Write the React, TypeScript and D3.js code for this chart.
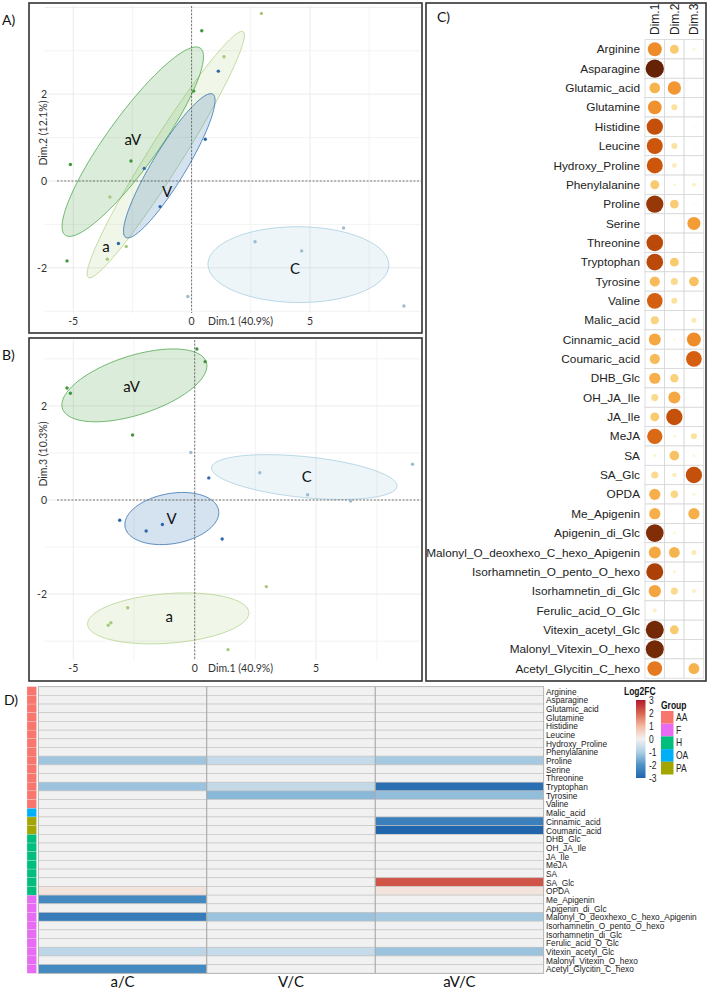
import React from 'react';
import * as d3 from 'd3';

// ---- PCA individuals (coordinates on the first three dimensions) ----
const sampleGroup = ['a', 'a', 'a', 'a', 'a', 'aV', 'aV', 'aV', 'aV', 'aV', 'C', 'C', 'C', 'C', 'C', 'V', 'V', 'V', 'V', 'V'];
const dim1 = [2.95, 1.37, -3.45, -2.76, -3.56, 0.43, 0.09, -5.12, -5.26, -2.56, -0.16, 2.68, 4.65, 6.42, 8.97, 1.13, 0.58, -1.33, -3.09, -2.0];
const dim2 = [3.86, 2.86, -0.37, -1.51, -1.8, 3.46, 2.07, 0.38, -1.84, 0.46, -2.66, -1.4, -1.61, -1.08, -2.88, 2.53, 0.96, -0.59, -1.44, 0.29];
const dim3 = [-1.84, -3.18, -2.61, -2.29, -2.66, 2.94, 3.21, 2.27, 2.38, 1.38, 1.01, 0.58, 0.11, -0.02, 0.76, -0.83, 0.47, -0.52, -0.43, -0.66];

const groups = ['a', 'aV', 'C', 'V'];
const groupColors = ['#b3d28a', '#4aa548', '#a6cce0', '#2f6eae'];
const pointColors = ['#a9c97c', '#3f963d', '#9dbccd', '#2d69a8'];

// where the group names sit on each plane
const labelDim1A = [-3.62, -2.48, 4.37, -1.04];
const labelDim2A = [-1.52, 0.94, -2.03, -0.25];
const labelDim1B = [-1.05, -2.6, 4.61, -0.95];
const labelDim3B = [-2.48, 2.41, 0.5, -0.39];

// ---- variables ----
const variables = [
  'Arginine', 'Asparagine', 'Glutamic_acid', 'Glutamine', 'Histidine', 'Leucine', 'Hydroxy_Proline',
  'Phenylalanine', 'Proline', 'Serine', 'Threonine', 'Tryptophan', 'Tyrosine', 'Valine', 'Malic_acid',
  'Cinnamic_acid', 'Coumaric_acid', 'DHB_Glc', 'OH_JA_Ile', 'JA_Ile', 'MeJA', 'SA', 'SA_Glc', 'OPDA',
  'Me_Apigenin', 'Apigenin_di_Glc', 'Malonyl_O_deoxhexo_C_hexo_Apigenin', 'Isorhamnetin_O_pento_O_hexo',
  'Isorhamnetin_di_Glc', 'Ferulic_acid_O_Glc', 'Vitexin_acetyl_Glc', 'Malonyl_Vitexin_O_hexo', 'Acetyl_Glycitin_C_hexo',
];
const variableClass = [
  'AA', 'AA', 'AA', 'AA', 'AA', 'AA', 'AA', 'AA', 'AA', 'AA', 'AA', 'AA', 'AA', 'AA',
  'OA', 'PA', 'PA',
  'H', 'H', 'H', 'H', 'H', 'H', 'H',
  'F', 'F', 'F', 'F', 'F', 'F', 'F', 'F', 'F',
];
const classNames = ['AA', 'F', 'H', 'OA', 'PA'];
const classColors = ['#F8766D', '#E76BF3', '#00BF7D', '#00B0F6', '#A3A500'];

// quality of representation (cos2) per dimension
const dims = ['Dim.1', 'Dim.2', 'Dim.3'];
const cos2Dim1 = [0.54, 0.93, 0.32, 0.52, 0.74, 0.71, 0.71, 0.22, 0.83, 0, 0.77, 0.77, 0.29, 0.68, 0.18, 0.4, 0.29, 0.35, 0.14, 0.22, 0.65, 0.03, 0.14, 0.35, 0.35, 0.87, 0.4, 0.8, 0.42, 0.045, 0.9, 0.9, 0.6];
const cos2Dim2 = [0.22, 0.01, 0.49, 0.1, 0.01, 0.1, 0.06, 0.025, 0.21, 0.01, 0.01, 0.22, 0.14, 0.1, 0, 0.02, 0, 0.19, 0.4, 0.74, 0.025, 0.26, 0.06, 0.16, 0.01, 0.025, 0.32, 0.03, 0.14, 0, 0.22, 0.01, 0.01];
const cos2Dim3 = [0.025, 0.01, 0.005, 0.01, 0.01, 0.01, 0.01, 0.045, 0.01, 0.47, 0.01, 0.005, 0.26, 0, 0.07, 0.54, 0.68, 0.01, 0, 0.005, 0.1, 0.025, 0.74, 0.025, 0.35, 0, 0.07, 0, 0.045, 0, 0.01, 0.01, 0.33];

// log2 fold changes against control
const contrasts = ['a/C', 'V/C', 'aV/C'];
const log2fcA = [0, 0, 0, 0, 0, 0, 0, 0, -1.15, 0, 0, -1.2, 0, 0, 0, 0, 0, 0, 0, 0, 0, 0, 0, 0.25, -2.2, 0, -2.5, 0, 0, 0, -0.8, 0, -2.2];
const log2fcV = [0, 0, 0, 0, 0, 0, 0, 0, -0.65, 0, 0, -0.7, -1.4, 0, 0, 0, 0, 0, 0, 0, 0, 0, 0, 0, 0, 0, -1.2, 0, 0, 0, -0.65, 0, 0];
const log2fcAV = [0, 0, 0, 0, 0, 0, 0, 0, -1.1, 0, 0, -2.8, -1.3, 0, 0, -2.4, -3.0, 0, 0, 0, 0, 0, 2.2, 0.25, 0, 0, -1.1, 0, 0, 0, -1.2, 0, 0];
const legendTicks = [3, 2, 1, 0, -1, -2, -3];

const CHI2_95 = 5.991; // qchisq(0.95, 2)

const fcColor = d3.scaleLinear<string>()
  .domain([-3, -2, -1, 0, 1, 2, 3])
  .range(['#2166ac', '#4d92c5', '#afcfe4', '#f1f1f1', '#f5b8a0', '#d8634f', '#b2182b'])
  .clamp(true);

const cos2Color = d3.scaleLinear<string>()
  .domain([0, 0.1, 0.2, 0.32, 0.45, 0.55, 0.7, 0.78, 0.85, 0.95])
  .range(['#fffbe6', '#fbe29f', '#f9cf78', '#f6b44f', '#f4a03a', '#ee8a28', '#d0580d', '#b8470a', '#8a3207', '#5c1e06']);

// confidence ellipse of a group mean, drawn through the panel scales
function ellipsePath(xs: number[], ys: number[], sx: any, sy: any) {
  const n = xs.length;
  const mx = d3.mean(xs)!, my = d3.mean(ys)!;
  let cxx = 0, cyy = 0, cxy = 0;
  xs.forEach((v, i) => {
    cxx += (v - mx) ** 2;
    cyy += (ys[i] - my) ** 2;
    cxy += (v - mx) * (ys[i] - my);
  });
  const k = CHI2_95 / n / (n - 1);
  const a = Math.sqrt(cxx * k);
  const b = (cxy * k) / a;
  const c = Math.sqrt(Math.max(cyy * k - b * b, 1e-9));
  const pts = d3.range(0, 120).map(i => {
    const t = (i / 120) * Math.PI * 2;
    return [mx + a * Math.cos(t), my + b * Math.cos(t) + c * Math.sin(t)];
  });
  return d3.line().x(p => sx(p[0])).y(p => sy(p[1])).curve(d3.curveLinearClosed)(pts as [number, number][]);
}

function PcaPanel({ box, plot, xDomain, yDomain, yVals, letter, letterY, yTitle, yTitleY, tickY, labX, labY }: any) {
  const x = d3.scaleLinear().domain(xDomain).range([plot.left, plot.right]);
  const y = d3.scaleLinear().domain(yDomain).range([plot.bottom, plot.top]);
  const xGrid = d3.range(-7.5, 12.5, 2.5).filter(v => v > xDomain[0] && v < xDomain[1]);
  const yGrid = d3.range(-4, 5, 1).filter(v => v > yDomain[0] && v < yDomain[1]);
  return (
    <g>
      <text x={2} y={letterY} fontSize={14} fill="#111">{letter}</text>
      <rect x={box.x} y={box.y} width={box.w} height={box.h} fill="#fff" stroke="#333" strokeWidth={1.6} />
      {xGrid.map(v => (
        <line key={'gx' + v} x1={x(v)} x2={x(v)} y1={plot.top} y2={plot.bottom}
          stroke={v % 5 === 0 ? '#e6e6e6' : '#f0f0f0'} strokeWidth={0.8} />
      ))}
      {yGrid.map(v => (
        <line key={'gy' + v} x1={plot.left - 5} x2={plot.right} y1={y(v)} y2={y(v)}
          stroke={v % 2 === 0 ? '#e6e6e6' : '#f0f0f0'} strokeWidth={0.8} />
      ))}
      {groups.map((g, gi) => {
        const idx = sampleGroup.map((s, i) => (s === g ? i : -1)).filter(i => i >= 0);
        return (
          <path key={'el' + g} d={ellipsePath(idx.map(i => dim1[i]), idx.map(i => yVals[i]), x, y) || ''}
            fill={groupColors[gi]} fillOpacity={0.2} stroke={groupColors[gi]} strokeOpacity={0.85} strokeWidth={0.9} />
        );
      })}
      <line x1={x(0)} x2={x(0)} y1={plot.top} y2={plot.bottom} stroke="#555" strokeWidth={0.8} strokeDasharray="2,1.6" />
      <line x1={plot.left + 7} x2={plot.right} y1={y(0)} y2={y(0)} stroke="#555" strokeWidth={0.8} strokeDasharray="2,1.6" />
      {dim1.map((v, i) => (
        <circle key={'p' + i} cx={x(v)} cy={y(yVals[i])} r={1.7}
          fill={pointColors[groups.indexOf(sampleGroup[i])]} />
      ))}
      {groups.map((g, gi) => (
        <text key={'lab' + g} x={x(labX[gi])} y={y(labY[gi])} dy="0.35em" textAnchor="middle"
          fontSize={15} fill="#111">{g}</text>
      ))}
      {[-5, 0, 5].map(v => (
        <text key={'tx' + v} x={x(v)} y={tickY} textAnchor="middle" fontSize={10.5} fill="#333">{v}</text>
      ))}
      <text x={208} y={tickY} fontSize={10.5} fill="#333">Dim.1 (40.9%)</text>
      {[-2, 0, 2].map(v => (
        <text key={'ty' + v} x={47} y={y(v)} dy="0.35em" textAnchor="end" fontSize={10.5} fill="#333">{v}</text>
      ))}
      <text transform={`translate(47,${yTitleY}) rotate(-90)`} textAnchor="middle" fontSize={10.5} fill="#333">{yTitle}</text>
    </g>
  );
}

function CorrPanel() {
  const cx = d3.scaleBand().domain(dims).range([645, 703.7]);
  const cy = d3.scaleBand().domain(variables).range([39.6, 678.2]);
  const r = d3.scaleSqrt().domain([0, 1]).range([0, 9.5]);
  const cols = [cos2Dim1, cos2Dim2, cos2Dim3];
  return (
    <g fontFamily="'Liberation Sans', Arial, sans-serif">
      <rect x={426} y={3} width={280} height={678} fill="#fff" stroke="#333" strokeWidth={1.6} />
      <text x={437} y={22} fontSize={14} fontFamily="Lato, sans-serif" fill="#111">C)</text>
      {dims.map(d => (
        <text key={d} transform={`translate(${cx(d)! + cx.bandwidth() / 2 + 4.2},35) rotate(-90)`}
          fontSize={12} fill="#222">{d}</text>
      ))}
      {variables.map(v => (
        <g key={v}>
          <text x={640} y={cy(v)! + cy.bandwidth() / 2} dy="0.35em" textAnchor="end" fontSize={11.8} fill="#222">{v}</text>
          {dims.map(d => (
            <rect key={d} x={cx(d)} y={cy(v)} width={cx.bandwidth()} height={cy.bandwidth()}
              fill="#fff" stroke="#d6d6d6" strokeWidth={0.8} />
          ))}
        </g>
      ))}
      {cols.map((vals, ci) => vals.map((val, i) => (
        <circle key={ci + '-' + i} cx={cx(dims[ci])! + cx.bandwidth() / 2} cy={cy(variables[i])! + cy.bandwidth() / 2}
          r={r(val)} fill={cos2Color(val)} />
      )))}
    </g>
  );
}

// condensed text, as the heatmap labels are drawn narrow
function NarrowText({ x, y, size = 10, bold = false, children }: any) {
  return (
    <text transform={`translate(${x},${y}) scale(0.85,1)`} dy="0.36em" fontSize={size}
      fontWeight={bold ? 'bold' : 'normal'} fill={bold ? '#111' : '#222'}>{children}</text>
  );
}

function HeatmapPanel() {
  const hx = d3.scaleBand().domain(contrasts).range([38.3, 543.7]);
  const hy = d3.scaleBand().domain(variables).range([686.7, 973.3]);
  const cols = [log2fcA, log2fcV, log2fcAV];
  const barY = d3.scaleLinear().domain([3, -3]).range([700, 778]);
  const swY = d3.scaleBand().domain(classNames).range([711, 774.5]);
  return (
    <g fontFamily="'Liberation Sans', Arial, sans-serif">
      <text x={4} y={705} fontSize={14} fontFamily="Lato, sans-serif" fill="#111">D)</text>
      {variables.map((v, i) => (
        <g key={v}>
          <rect x={27} y={hy(v)} width={9.5} height={hy.bandwidth()}
            fill={classColors[classNames.indexOf(variableClass[i])]} stroke="#e0e0e0" strokeWidth={0.3} />
          {contrasts.map((c, ci) => (
            <rect key={c} x={hx(c)} y={hy(v)} width={hx.bandwidth()} height={hy.bandwidth()}
              fill={fcColor(cols[ci][i])} stroke="#c2c2c2" strokeWidth={0.6} />
          ))}
          <NarrowText x={546} y={hy(v)! + hy.bandwidth() / 2} size={9.8}>{v}</NarrowText>
        </g>
      ))}
      {contrasts.slice(1).map(c => (
        <line key={c} x1={hx(c)} x2={hx(c)} y1={686.7} y2={973.3} stroke="#a0a0a0" strokeWidth={0.8} />
      ))}
      <rect x={38.3} y={686.7} width={505.4} height={286.6} fill="none" stroke="#b0b0b0" strokeWidth={0.8} />
      {contrasts.map(c => (
        <text key={c} x={hx(c)! + hx.bandwidth() / 2} y={987} textAnchor="middle" fontSize={15}
          fontFamily="Lato, sans-serif" fill="#111">{c}</text>
      ))}

      <defs>
        <linearGradient id="fcbar" x1="0" x2="0" y1="0" y2="1">
          {d3.range(0, 13).map(i => {
            const v = 3 - i * 0.5;
            return <stop key={i} offset={`${(i / 12) * 100}%`} stopColor={fcColor(v)} />;
          })}
        </linearGradient>
      </defs>
      <NarrowText x={624} y={691} size={10} bold>Log2FC</NarrowText>
      <rect x={636} y={barY(3)} width={9.5} height={barY(-3) - barY(3)} fill="url(#fcbar)" />
      {legendTicks.map(t => (
        <NarrowText key={t} x={649} y={barY(t)} size={10}>{t}</NarrowText>
      ))}
      <NarrowText x={661} y={705} size={10} bold>Group</NarrowText>
      {classNames.map((c, i) => (
        <g key={c}>
          <rect x={661} y={swY(c)} width={12.5} height={swY.bandwidth()} fill={classColors[i]} />
          <NarrowText x={676} y={swY(c)! + swY.bandwidth() / 2} size={10}>{c}</NarrowText>
        </g>
      ))}
    </g>
  );
}

export default function App() {
  return (
    <svg width={709} height={990} style={{ position: 'absolute', left: 0, top: 0, background: '#fff' }}
      fontFamily="Lato, sans-serif">
      <PcaPanel
        box={{ x: 29, y: 3, w: 393, h: 330 }}
        plot={{ left: 50, right: 421, top: 6, bottom: 313 }}
        xDomain={[-5.98, 9.69]} yDomain={[-3.04, 4.03]}
        yVals={dim2} letter="A)" letterY={25}
        yTitle="Dim.2 (12.1%)" yTitleY={133} tickY={325}
        labX={labelDim1A} labY={labelDim2A}
      />
      <PcaPanel
        box={{ x: 29, y: 338, w: 393, h: 343 }}
        plot={{ left: 50, right: 421, top: 340, bottom: 660 }}
        xDomain={[-5.96, 9.32]} yDomain={[-3.4, 3.4]}
        yVals={dim3} letter="B)" letterY={360}
        yTitle="Dim.3 (10.3%)" yTitleY={454} tickY={672}
        labX={labelDim1B} labY={labelDim3B}
      />
      <CorrPanel />
      <HeatmapPanel />
    </svg>
  );
}
